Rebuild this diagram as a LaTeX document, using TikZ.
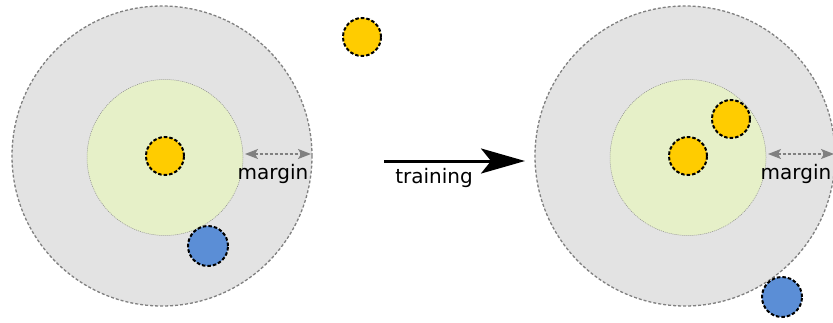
\documentclass[tikz,border=0pt]{standalone}
\usepackage{fontspec}
\setmainfont{DejaVu Sans}
\usetikzlibrary{arrows.meta}
\definecolor{outerfill}{HTML}{E3E3E3}
\definecolor{outerline}{HTML}{808080}
\definecolor{innerfill}{HTML}{E6F0C8}
\definecolor{innerline}{HTML}{8A8A8A}
\definecolor{yel}{HTML}{FFCC00}
\definecolor{blu}{HTML}{5B8ED6}
\begin{document}
\begin{tikzpicture}[x=1pt,y=-1pt,
  outer/.style={circle,fill=outerfill,draw=outerline,line width=1.3pt,dash pattern=on 3pt off 2pt,minimum size=300pt,inner sep=0pt},
  inner/.style={circle,fill=innerfill,draw=innerline,line width=0.5pt,dash pattern=on 1pt off 1pt,minimum size=156pt,inner sep=0pt},
  ball/.style={circle,draw=black,line width=2pt,dash pattern=on 3.5pt off 2pt,minimum size=38pt,inner sep=0pt},
  yball/.style={ball,fill=yel},
  bball/.style={ball,fill=blu,minimum size=40pt},
  marr/.style={draw=outerline,line width=1.4pt,dash pattern=on 3pt off 2pt,{Stealth[length=13pt,width=10pt,inset=3pt]}-{Stealth[length=13pt,width=10pt,inset=3pt]}},
  lbl/.style={font=\fontsize{20}{24}\selectfont,inner sep=0pt}]
\useasboundingbox (0,0) rectangle (833,322);
% left
\node[outer] (LO) at (162,156) {};
\node[inner] (LI) at (165,157.5) {};
\node[yball] (LY) at (165,156) {};
\node[bball] (LB) at (208,246) {};
\node[yball] (TY) at (362,37) {};
\coordinate (LMa) at (245,154);
\coordinate (LMb) at (311,154);
\draw[marr] (LMa) -- (LMb);
\node[lbl] (LM) at (273,174) {margin};
% arrow
\coordinate (A1) at (384,161);
\coordinate (A2) at (525,161);
\draw[line width=3pt,-{Stealth[length=44pt,width=25pt,inset=10pt]}] (A1) -- (A2);
\node[lbl] (TR) at (434,178) {training};
% right
\node[outer] (RO) at (685,156) {};
\node[inner] (RI) at (688,157.5) {};
\node[yball] (RY) at (688,156) {};
\node[yball] (RY2) at (731,119) {};
\node[bball] (RB) at (782,297) {};
\coordinate (RMa) at (768,154);
\coordinate (RMb) at (834,154);
\draw[marr] (RMa) -- (RMb);
\node[lbl] (RM) at (796,174) {margin};
\end{tikzpicture}
\end{document}
